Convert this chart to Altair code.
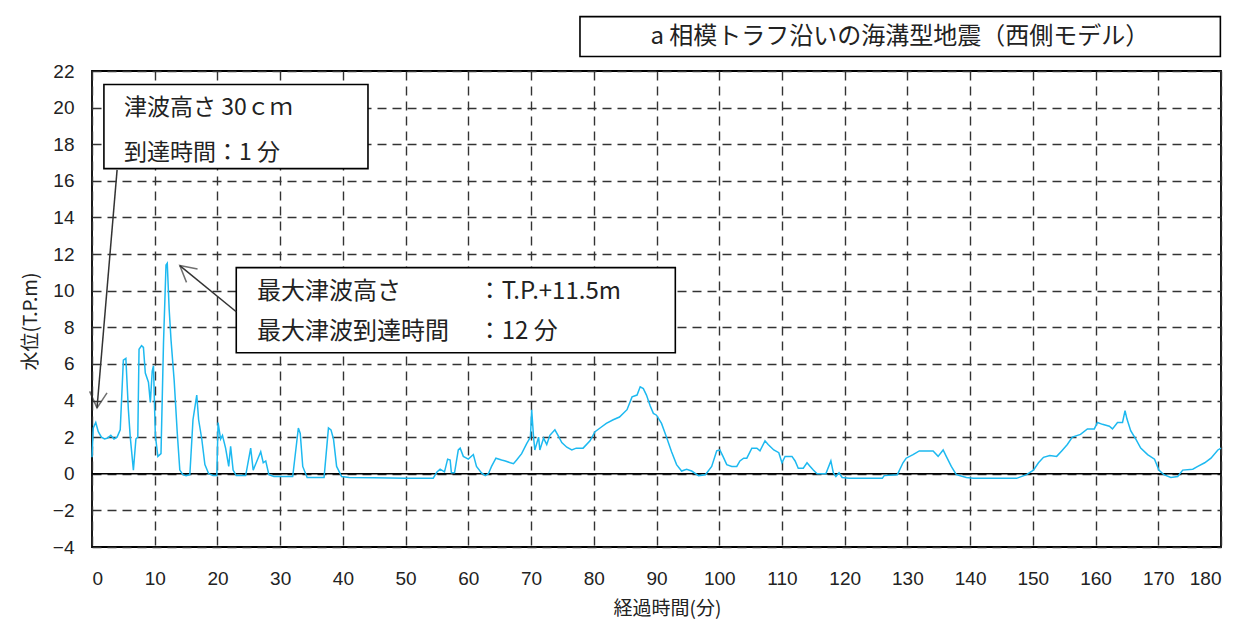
import altair as alt
import pandas as pd

# ---- series ----
t = [0, 0.2, 0.6, 1.0, 1.5, 2.0, 2.5, 3.0, 3.5, 4.0, 4.5, 5.0, 5.4, 5.8, 6.1, 6.6, 7.0, 7.3, 7.5, 7.9,
     8.2, 8.5, 9.0, 9.3, 9.6, 9.8, 10.1, 10.5, 11.0, 11.4, 11.8, 12.0, 12.3, 12.6, 13.1, 13.6, 14.0, 14.5,
     15.0, 15.6, 16.1, 16.7, 17.0, 17.5, 18.0, 18.6, 19.3, 19.9, 20.1, 20.5, 20.8, 21.3, 21.8, 22.1, 22.5,
     23.0, 24.5, 25.3, 25.7, 26.9, 27.3, 27.7, 28.2, 29.0, 32.0, 32.9, 33.2, 33.6, 34.3, 37.0, 37.7, 38.1,
     38.5, 39.0, 39.8, 41, 45, 50, 54.4, 55.0, 55.5, 56.2, 56.7, 57.1, 57.3, 57.8, 58.4, 58.7, 59.2, 60.0,
     60.8, 61.3, 62.1, 62.7, 63.2, 63.7, 64.4, 65.3, 65.9, 66.7, 67.2, 67.7, 68.5, 69.3, 69.9, 70.1, 70.4,
     70.6, 71.2, 71.4, 72.0, 72.5, 73.0, 73.8, 74.3, 74.9, 75.7, 76.5, 77.2, 78.3, 79.4, 80.2, 81.0, 82.0,
     83.1, 84.1, 85.3, 86.1, 86.9, 87.4, 87.9, 88.4, 89.0, 89.5, 90.0, 90.8, 91.6, 92.4, 93.2, 94.0, 94.8,
     95.6, 96.7, 97.8, 98.8, 99.6, 100.1, 100.6, 101.2, 102.0, 102.8, 103.3, 103.9, 104.4, 105.2, 106.0,
     106.5, 107.3, 107.8, 108.7, 109.5, 110.0, 110.5, 111.6, 112.1, 112.6, 113.4, 114.0, 114.5, 115.0,
     115.6, 117.0, 117.8, 118.2, 118.6, 119.1, 119.6, 120.7, 126.0, 126.3, 128.4, 129.3, 129.8, 130.9,
     131.9, 133.0, 134.1, 134.9, 135.7, 136.2, 137.0, 137.8, 139.4, 140.5, 147.4, 149.0, 150.1, 150.9,
     151.7, 152.7, 153.8, 154.6, 155.5, 156.3, 157.6, 158.7, 159.8, 160.3, 161.1, 162.2, 162.7, 163.5,
     164.3, 164.7, 165.0, 165.6, 166.4, 167.2, 168.3, 169.4, 170.1, 170.9, 172.0, 173.1, 173.9, 175.5,
     176.3, 177.4, 178.4, 179.5, 180.0]
level = [0.9, 2.5, 2.8, 2.3, 2.0, 1.9, 1.95, 2.1, 1.9, 2.0, 2.4, 6.2, 6.3, 3.5, 2.0, 0.2, 1.9, 2.0, 6.8, 7.0,
         6.9, 5.5, 5.0, 3.9, 5.6, 5.9, 2.1, 0.95, 1.1, 7.15, 11.4, 11.5, 9.0, 7.3, 5.1, 2.2, 0.2, -0.05,
         -0.1, -0.05, 2.95, 4.3, 2.95, 1.9, 0.5, 0.0, -0.1, -0.1, 2.8, 1.9, 2.1, 1.4, 0.4, 1.5, 0.2,
         -0.1, -0.1, 1.4, 0.2, 1.2, 0.6, 0.7, -0.05, -0.15, -0.15, 2.5, 2.2, 0.4, -0.2, -0.2, 2.5, 2.4,
         1.9, 0.4, -0.15, -0.2, -0.22, -0.24, -0.24, 0.1, 0.25, 0.1, 0.8, 0.75, 0.05, 0.05, 1.3, 1.4, 0.95, 0.8,
         1.05, 0.4, 0.05, -0.1, 0.0, 0.4, 0.85, 0.75, 0.7, 0.6, 0.55, 0.75, 1.1, 1.65, 2.0, 3.5, 2.0,
         1.3, 2.0, 1.3, 1.95, 1.6, 2.1, 2.4, 2.1, 1.7, 1.45, 1.3, 1.4, 1.4, 1.8, 2.3, 2.5, 2.75,
         2.95, 3.1, 3.5, 4.2, 4.3, 4.75, 4.65, 4.3, 3.7, 3.3, 3.2, 2.75, 2.0, 1.2, 0.5, 0.15, 0.25,
         0.15, -0.1, -0.05, 0.4, 1.25, 1.3, 0.95, 0.5, 0.4, 0.4, 0.7, 0.85, 0.85, 1.4, 1.4,
         1.25, 1.8, 1.6, 1.3, 1.15, 0.6, 0.95, 0.95, 0.7, 0.3, 0.3, 0.6, 0.4, 0.2,
         0.0, 0.0, 0.7, 0.05, -0.15, 0.05, -0.2, -0.25, -0.25, -0.1, -0.05, 0.6, 0.85, 1.05,
         1.25, 1.25, 1.25, 0.95, 1.3, 0.95, 0.4, -0.05, -0.2, -0.25, -0.25, -0.05, 0.2, 0.6,
         0.9, 1.0, 0.95, 1.25, 1.6, 2.0, 2.15, 2.45, 2.45, 2.8, 2.7, 2.6, 2.45, 2.8,
         2.8, 3.45, 3.0, 2.35, 1.9, 1.4, 1.05, 0.8, 0.2, -0.05, -0.2, -0.15, 0.2, 0.25,
         0.4, 0.6, 0.85, 1.3, 1.4]

x_ticks = list(range(0, 181, 10))
y_ticks = list(range(-4, 23, 2))

title_text = "a 相模トラフ沿いの海溝型地震（西側モデル）"
x_title = "経過時間(分)"
y_title = "水位(T.P.m)"

# annotation texts (data coordinates)
box1_lines = ["津波高さ 30ｃｍ", "到達時間：1 分"]
box1_y = [20.0, 17.5]
box2_labels = ["最大津波高さ", "最大津波到達時間"]
box2_values = ["：T.P.+11.5m", "：12 分"]
box2_y = [9.95, 7.76]

LINE_COLOR = "#1DB9F0"
TEXT_COLOR = "#222222"
JP = "Noto Sans CJK JP"

df = pd.DataFrame({"t": t, "v": level})

xs = alt.Scale(domain=[0, 180], nice=False, zero=False)
ys = alt.Scale(domain=[-4, 22], nice=False, zero=False)

common_axis = dict(grid=True, ticks=False, domain=False, labelOverlap=False, tickCount=40,
                   format="d",
                   gridDash=[9, 6], gridColor="#333333", gridWidth=1.4, gridOpacity=1,
                   labelFontSize=19, labelFont="Liberation Sans", labelColor=TEXT_COLOR,
                   titleFont=JP, titleFontSize=19, titleFontWeight="normal", titleColor=TEXT_COLOR)

line = alt.Chart(df).mark_line(color=LINE_COLOR, strokeWidth=1.5).encode(
    x=alt.X("t:Q", scale=xs, axis=alt.Axis(
        values=x_ticks, title=x_title, labelPadding=22,
        titleX=575, titleY=52, titleBaseline="top", titleAlign="center", **common_axis)),
    y=alt.Y("v:Q", scale=ys, axis=alt.Axis(
        values=y_ticks, title=y_title, labelPadding=18,
        titleX=-62, titleY=250, titleBaseline="middle", titleAlign="center", **common_axis)),
)

zero = alt.Chart(pd.DataFrame({"y": [0]})).mark_rule(color="black", strokeWidth=1.6).encode(
    y=alt.Y("y:Q", scale=ys))

# title box
tb = pd.DataFrame({"x1": [77.8], "x2": [179.9], "y1": [22.79], "y2": [24.97],
                   "xc": [128.8], "yc": [23.88], "txt": [title_text]})
title_rect = alt.Chart(tb).mark_rect(fill="white", stroke="black", strokeWidth=1.6).encode(
    x=alt.X("x1:Q", scale=xs), x2="x2:Q", y=alt.Y("y1:Q", scale=ys), y2="y2:Q")
title_txt = alt.Chart(tb).mark_text(font=JP, fontSize=24, color=TEXT_COLOR, align="center",
                                    baseline="middle").encode(
    x=alt.X("xc:Q", scale=xs), y=alt.Y("yc:Q", scale=ys), text="txt:N")

# annotation box 1
b1 = pd.DataFrame({"x1": [1.9], "x2": [44.0], "y1": [16.67], "y2": [21.26]})
b1_rect = alt.Chart(b1).mark_rect(fill="white", stroke="black", strokeWidth=1.6).encode(
    x=alt.X("x1:Q", scale=xs), x2="x2:Q", y=alt.Y("y1:Q", scale=ys), y2="y2:Q")
b1t = pd.DataFrame({"x": [5.1, 5.1], "y": box1_y, "txt": box1_lines})
b1_txt = alt.Chart(b1t).mark_text(font=JP, fontSize=23, color=TEXT_COLOR, align="left",
                                  baseline="middle").encode(
    x=alt.X("x:Q", scale=xs), y=alt.Y("y:Q", scale=ys), text="txt:N")

# annotation box 2
b2 = pd.DataFrame({"x1": [23.0], "x2": [93.0], "y1": [6.61], "y2": [11.26]})
b2_rect = alt.Chart(b2).mark_rect(fill="white", stroke="black", strokeWidth=1.6).encode(
    x=alt.X("x1:Q", scale=xs), x2="x2:Q", y=alt.Y("y1:Q", scale=ys), y2="y2:Q")
b2t = pd.DataFrame({"x": [26.3, 26.3], "y": box2_y, "txt": box2_labels})
b2_txt = alt.Chart(b2t).mark_text(font=JP, fontSize=24, color=TEXT_COLOR, align="left",
                                  baseline="middle").encode(
    x=alt.X("x:Q", scale=xs), y=alt.Y("y:Q", scale=ys), text="txt:N")
b2v = pd.DataFrame({"x": [61.5, 61.5], "y": box2_y, "txt": box2_values})
b2_val = alt.Chart(b2v).mark_text(font=JP, fontSize=24, color=TEXT_COLOR, align="left",
                                  baseline="middle").encode(
    x=alt.X("x:Q", scale=xs), y=alt.Y("y:Q", scale=ys), text="txt:N")

# arrows (start -> tip, data coordinates)
arrows = pd.DataFrame({"x1": [4.0, 23.0], "y1": [16.6, 8.85],
                       "x2": [0.8, 14.0], "y2": [3.6, 11.37],
                       "ang": [184.8, 309.4]})
shaft = alt.Chart(arrows).mark_rule(color="#333333", strokeWidth=1.5).encode(
    x=alt.X("x1:Q", scale=xs), y=alt.Y("y1:Q", scale=ys), x2="x2:Q", y2="y2:Q")
head = alt.Chart(arrows).mark_point(shape="M -0.55 1 L 0 0 L 0.55 1", filled=False,
                                    color="#333333", strokeWidth=1.5, size=1000).encode(
    x=alt.X("x2:Q", scale=xs), y=alt.Y("y2:Q", scale=ys), angle=alt.Angle("ang:Q", scale=None))

chart = alt.layer(zero, line, b2_rect, b1_rect, shaft, head, b1_txt, b2_txt, b2_val,
                  title_rect, title_txt).properties(
    width=1129, height=476, autosize="none", background="white",
    padding={"left": 84, "top": 63, "right": 12, "bottom": 74},
).configure_view(stroke="black", strokeWidth=1.8)

chart.save("out.html", embed_options={"renderer": "svg", "actions": False})
